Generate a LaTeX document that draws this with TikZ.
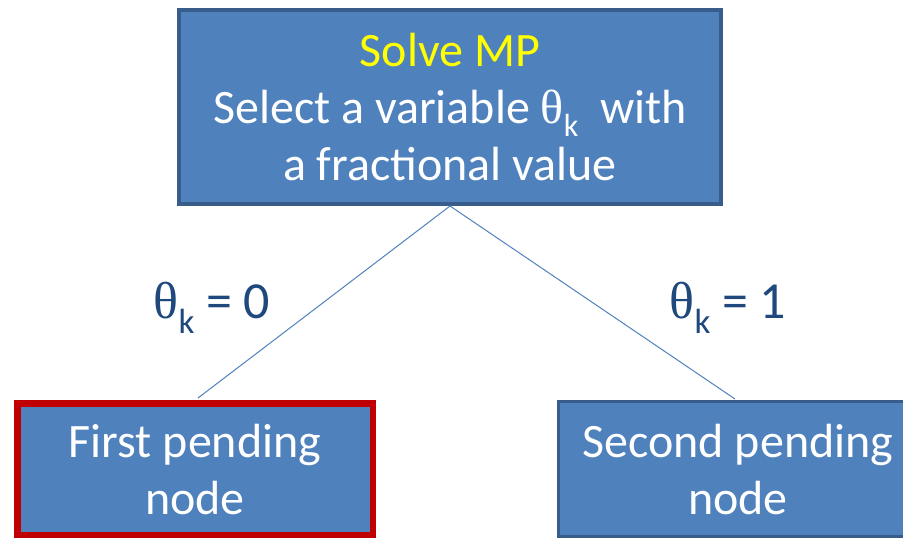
\documentclass[tikz,border=0pt]{standalone}
\usepackage{fontspec}
\setmainfont{Carlito}
\newfontfamily\symfont{Liberation Serif}
\definecolor{boxfill}{HTML}{4F81BD}
\definecolor{boxedge}{HTML}{385D8A}
\definecolor{rededge}{HTML}{C00000}
\definecolor{labelblue}{HTML}{1F497D}
\definecolor{solveyellow}{HTML}{FFFF00}
\newcommand{\thk}{{\symfont θ}\raisebox{-0.28em}{\fontsize{32}{32}\selectfont k}}
\newcommand{\thkl}{{\symfont θ}\raisebox{-0.28em}{\fontsize{35}{35}\selectfont k}}
\tikzset{
  bigtext/.style={font=\fontsize{48}{57}\selectfont},
  bluebox/.style={draw=boxedge, line width=4pt, fill=boxfill, text=white, align=center, bigtext, inner sep=0pt, minimum width=542pt, minimum height=194pt},
  leafbox/.style={draw=boxedge, line width=3pt, fill=boxfill, text=white, align=center, bigtext, inner sep=0pt, minimum width=360pt, minimum height=135pt},
  redleaf/.style={leafbox, draw=rededge, line width=6.5pt, minimum width=355.5pt, minimum height=131.5pt},
  branch/.style={draw=boxfill, line width=1pt},
  edgelabel/.style={text=labelblue, font=\fontsize{52}{60}\selectfont, inner sep=0pt}
}
\begin{document}
\begin{tikzpicture}[x=1pt,y=-1pt]
\useasboundingbox (0,0) rectangle (903,538);
\clip (0,0) rectangle (903,538);
\node[bluebox] (mp) at (450,107) {\textcolor{solveyellow}{Solve MP}\\Select a variable \thk\ \ with\\a fractional value};
\node[redleaf] (first) at (195,469) {First pending\\node};
\node[leafbox] (second) at (738,469) {Second pending\\node};
\coordinate (fa) at (198,398);
\coordinate (sa) at (735,399);
\draw[branch] (mp.south) -- (fa);
\draw[branch] (mp.south) -- (sa);
\node[edgelabel] (l0) at (212,308) {\thkl\ = 0};
\node[edgelabel] (l1) at (728,308) {\thkl\ = 1};
\end{tikzpicture}
\end{document}
